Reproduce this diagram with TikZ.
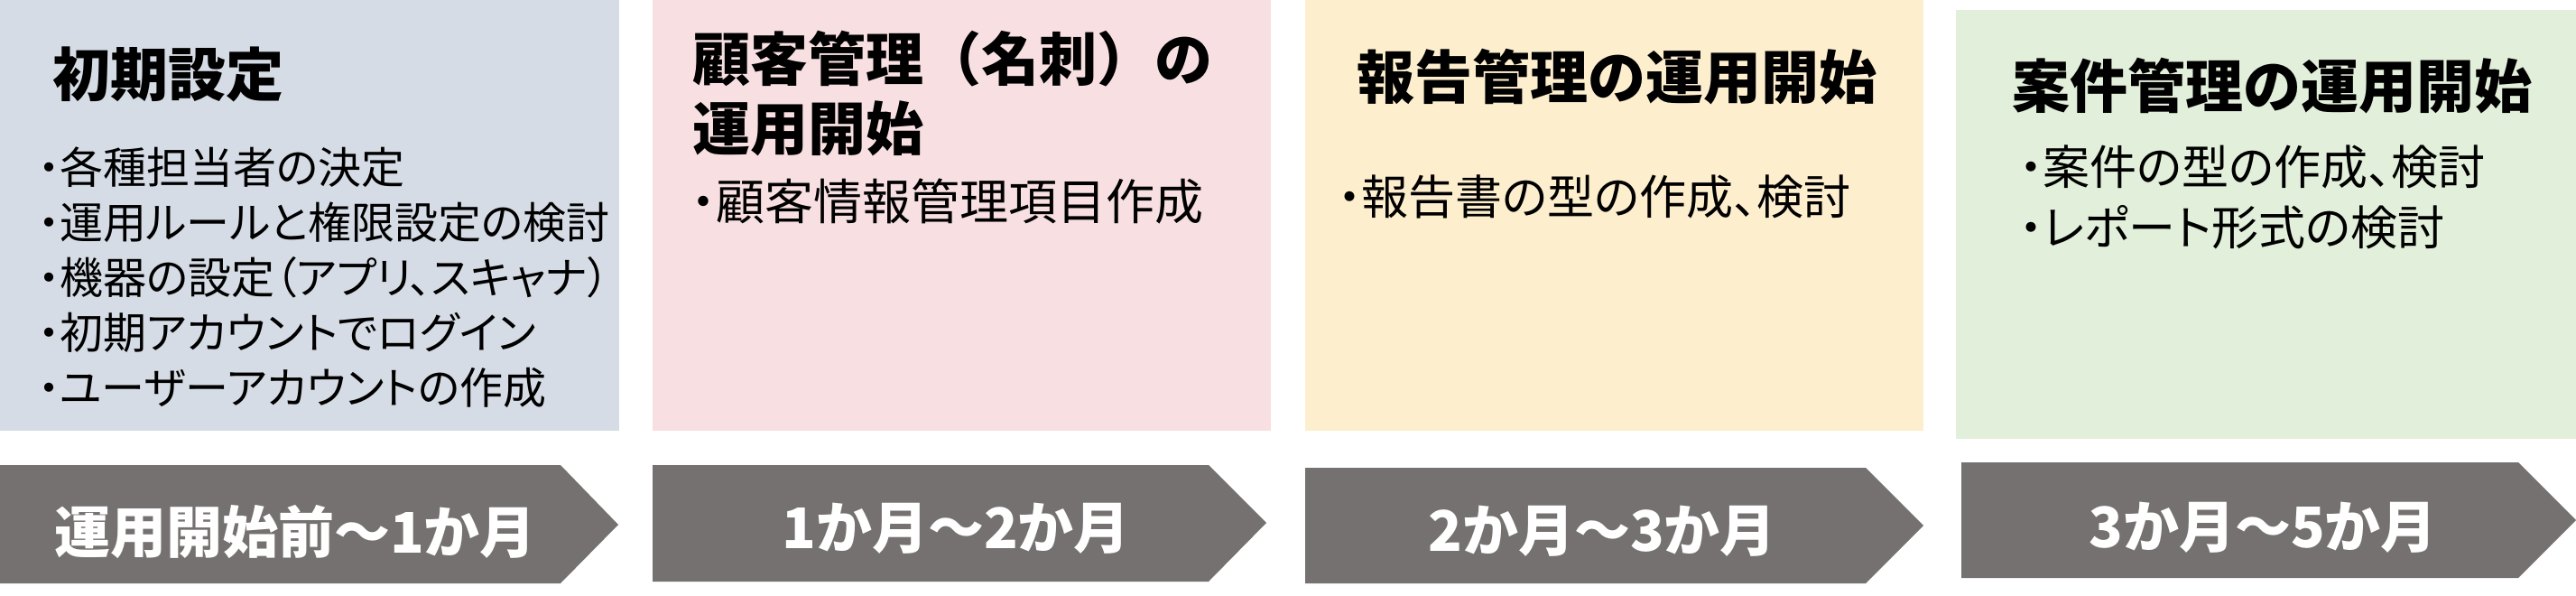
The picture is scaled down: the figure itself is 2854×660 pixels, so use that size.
\documentclass[tikz,border=0pt]{standalone}
\usepackage{fontspec}
\setmainfont{Noto Sans CJK JP}
\newfontfamily\jpprop{Noto Sans CJK JP}[RawFeature=+palt]
\usepackage{xcolor}
\usepackage{tikz}
\usetikzlibrary{positioning}

\definecolor{boxblue}{HTML}{D6DCE5}
\definecolor{boxpink}{HTML}{F8DFE2}
\definecolor{boxyellow}{HTML}{FDEECD}
\definecolor{boxgreen}{HTML}{E2EFDA}
\definecolor{stagegray}{HTML}{767171}

\begin{document}
\begin{tikzpicture}[
    x=1pt, y=1pt,
    phase/.style={rectangle, anchor=north west, inner sep=0pt, minimum width=686pt, minimum height=477pt},
    phasetitle/.style={anchor=base west, inner sep=0pt, align=left, font=\fontsize{64}{77}\selectfont\bfseries},
    item/.style={anchor=base west, inner sep=0pt, align=left, font=\jpprop\fontsize{48}{61}\selectfont},
    bigitem/.style={item, font=\jpprop\fontsize{52}{67}\selectfont},
    stage/.style={fill=stagegray},
    period/.style={inner sep=0pt, text=white, font=\fontsize{62}{62}\selectfont\bfseries}
]
\useasboundingbox (0,0) rectangle (2854,-660);

% Phase boxes
\node[phase, fill=boxblue] (setup) at (0,0) {};
\node[phase, fill=boxpink, minimum width=685pt] (customer) at (723,0) {};
\node[phase, fill=boxyellow, minimum width=685pt] (report) at (1446,0) {};
\node[phase, fill=boxgreen, minimum width=687pt, minimum height=475pt] (project) at (2167,-11) {};

% Titles
\node[phasetitle] (setuptitle) at (58,-107) {初期設定};
\node[phasetitle] (customertitle) at (767,-167) {顧客管理（名刺）の\\運用開始};
\node[phasetitle] (reporttitle) at (1503,-110) {報告管理の運用開始};
\node[phasetitle] (projecttitle) at (2229,-120) {案件管理の運用開始};

% Tasks (anchored on the last line)
\node[item] (setupitems) at (42,-447) {・各種担当者の決定\\・運用ルールと権限設定の検討\\・機器の設定（アプリ、スキャナ）\\・初期アカウントでログイン\\・ユーザーアカウントの作成};
\node[bigitem, font=\jpprop\fontsize{54}{67}\selectfont] (customeritems) at (766,-244) {・顧客情報管理項目作成};
\node[bigitem] (reportitems) at (1482,-238) {・報告書の型の作成、検討};
\node[bigitem] (projectitems) at (2237,-272) {・案件の型の作成、検討\\・レポート形式の検討};

% Time line
\fill[stage] (0,-515) -- (621,-515) -- (685,-581) -- (621,-646) -- (0,-646) -- cycle;
\fill[stage] (723,-515) -- (1339,-515) -- (1403,-579) -- (1339,-644) -- (723,-644) -- cycle;
\fill[stage] (1446,-518) -- (2067,-518) -- (2131,-582) -- (2067,-646) -- (1446,-646) -- cycle;
\fill[stage] (2173,-512) -- (2790,-512) -- (2854,-576) -- (2790,-640) -- (2173,-640) -- cycle;

\node[period] (stage1) at (327,-589) {運用開始前～1か月};
\node[period] (stage2) at (1059,-585) {1か月～2か月};
\node[period] (stage3) at (1775,-588) {2か月～3か月};
\node[period] (stage4) at (2507,-584) {3か月～5か月};

\end{tikzpicture}
\end{document}
